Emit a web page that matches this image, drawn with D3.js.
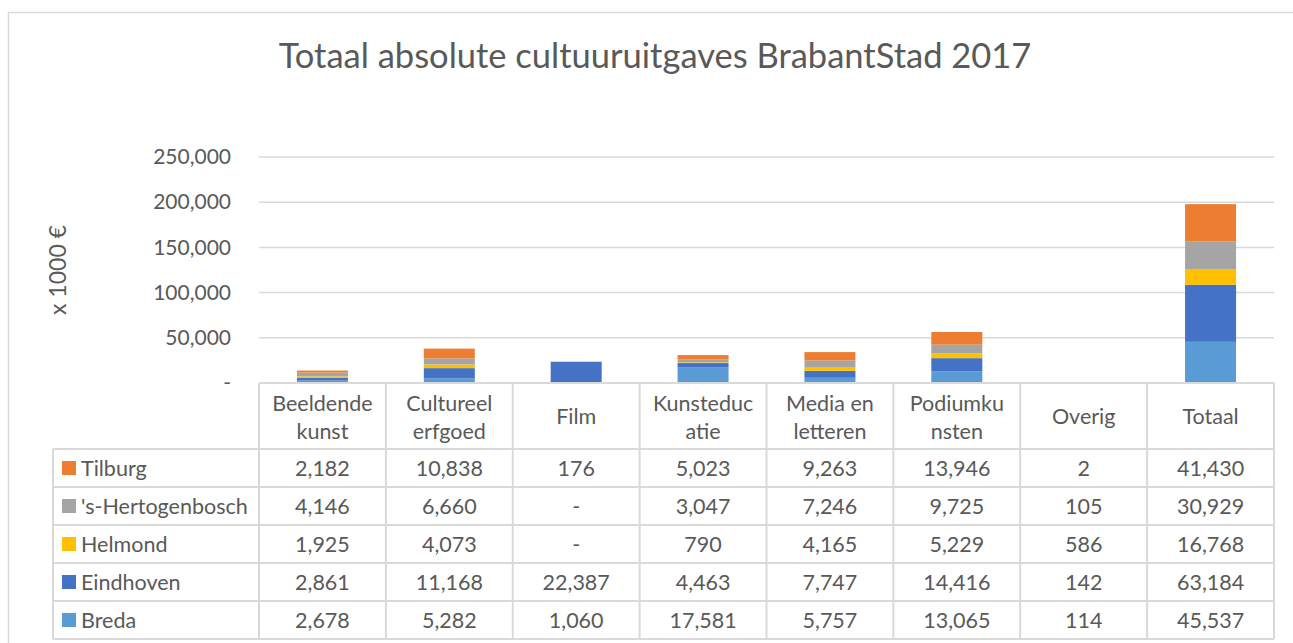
<!DOCTYPE html>
<html>
<head>
	<meta charset="utf-8">
	<title>Totaal absolute cultuuruitgaves BrabantStad 2017</title>
	<script src="https://d3js.org/d3.v7.min.js"></script>
	<style type="text/css">
		body { margin:0; background:#fff; }
		svg { display:block; font-family: Lato, "Open Sans", sans-serif; }
	</style>
</head>
<body>
	<script type="text/javascript">

		// data
		var categories = ["Beeldende kunst", "Cultureel erfgoed", "Film", "Kunsteducatie",
			"Media en letteren", "Podiumkunsten", "Overig", "Totaal"];
		// header labels as wrapped in the table
		var headerLines = [["Beeldende","kunst"], ["Cultureel","erfgoed"], ["Film"], ["Kunsteduc","atie"],
			["Media en","letteren"], ["Podiumku","nsten"], ["Overig"], ["Totaal"]];
		var cities = ["Breda", "Eindhoven", "Helmond", "'s-Hertogenbosch", "Tilburg"];
		var breda       = [2678, 5282, 1060, 17581, 5757, 13065, 114, 45537];
		var eindhoven   = [2861, 11168, 22387, 4463, 7747, 14416, 142, 63184];
		var helmond     = [1925, 4073, 0, 790, 4165, 5229, 586, 16768];
		var hertogenbosch = [4146, 6660, 0, 3047, 7246, 9725, 105, 30929];
		var tilburg     = [2182, 10838, 176, 5023, 9263, 13946, 2, 41430];
		var yTicks = [0, 50000, 100000, 150000, 200000, 250000];
		var colors = ["#5B9BD5", "#4472C4", "#FFC000", "#A5A5A5", "#ED7D31"];

		var seriesValues = [breda, eindhoven, helmond, hertogenbosch, tilburg];

		var W = 1293, H = 643;
		var plot = {left: 259, right: 1274, top: 157, bottom: 383};
		var headerH = 66, rowH = 38, legendLeft = 53;
		var textColor = "#595959", lineColor = "#d9d9d9";
		var cellFont = 21.5;

		var svg = d3.select("body").append("svg")
			.attr("width", W)
			.attr("height", H);

		// chart frame (continues past the right/bottom edge)
		svg.append("rect")
			.attr("x", 8.5).attr("y", 12.5)
			.attr("width", W + 20).attr("height", H + 20)
			.attr("fill", "none")
			.attr("stroke", lineColor)
			.attr("stroke-width", 1.5);

		// title
		svg.append("text")
			.attr("x", 655).attr("y", 68)
			.attr("text-anchor", "middle")
			.attr("fill", textColor)
			.attr("font-size", 34.5)
			.text("Totaal absolute cultuuruitgaves BrabantStad 2017");

		var x = d3.scaleBand()
			.domain(categories)
			.range([plot.left, plot.right])
			.paddingInner(0)
			.paddingOuter(0);

		var y = d3.scaleLinear()
			.domain([0, 250000])
			.range([plot.bottom, plot.top]);

		// gridlines
		svg.append("g")
			.selectAll("line")
			.data(yTicks.slice(1))
			.enter()
			.append("line")
				.attr("x1", plot.left).attr("x2", plot.right)
				.attr("y1", function(d){ return y(d); })
				.attr("y2", function(d){ return y(d); })
				.attr("stroke", lineColor)
				.attr("stroke-width", 1.5);

		// y axis labels
		var fmt = d3.format(",");
		var yAxis = d3.axisLeft(y)
			.tickValues(yTicks)
			.tickSize(0)
			.tickPadding(0)
			.tickFormat(function(d){ return d === 0 ? "-" : fmt(d); });
		var gy = svg.append("g")
			.attr("transform", "translate(" + (plot.left - 28) + ",0)")
			.call(yAxis);
		gy.select(".domain").remove();
		gy.selectAll("text")
			.attr("fill", textColor)
			.attr("font-size", 21)
			.attr("font-family", "Lato, sans-serif");

		// y axis title
		svg.append("text")
			.attr("transform", "translate(66,270) rotate(-90)")
			.attr("text-anchor", "middle")
			.attr("fill", textColor)
			.attr("font-size", 23)
			.text("x 1000 €");

		// stacked bars
		var rows = categories.map(function(c, i){
			var r = {category: c};
			cities.forEach(function(city, k){ r[city] = seriesValues[k][i]; });
			return r;
		});
		var stack = d3.stack().keys(cities)(rows);
		var barW = 51;

		svg.append("g")
			.selectAll("g")
			.data(stack)
			.enter()
			.append("g")
				.attr("fill", function(d, i){ return colors[i]; })
			.selectAll("rect")
			.data(function(d){ return d; })
			.enter()
			.append("rect")
				.attr("x", function(d){ return x(d.data.category) + (x.bandwidth() - barW) / 2; })
				.attr("y", function(d){ return y(d[1]); })
				.attr("width", barW)
				.attr("height", function(d){ return y(d[0]) - y(d[1]); });

		// data table
		var table = svg.append("g");
		var tableTop = plot.bottom;
		var nRows = cities.length;
		var tableBottom = tableTop + headerH + nRows * rowH;

		// header row border
		table.append("line")
			.attr("x1", plot.left).attr("x2", plot.right)
			.attr("y1", tableTop).attr("y2", tableTop);
		// horizontal lines for data rows
		d3.range(nRows + 1).forEach(function(i){
			var yy = tableTop + headerH + i * rowH;
			table.append("line")
				.attr("x1", legendLeft).attr("x2", plot.right)
				.attr("y1", yy).attr("y2", yy);
		});
		// vertical lines
		categories.forEach(function(c){
			table.append("line")
				.attr("x1", x(c)).attr("x2", x(c))
				.attr("y1", tableTop).attr("y2", tableBottom);
		});
		table.append("line")
			.attr("x1", plot.right).attr("x2", plot.right)
			.attr("y1", tableTop).attr("y2", tableBottom);
		table.append("line")
			.attr("x1", legendLeft).attr("x2", legendLeft)
			.attr("y1", tableTop + headerH).attr("y2", tableBottom);
		table.selectAll("line")
			.attr("stroke", lineColor)
			.attr("stroke-width", 2);

		// header text
		headerLines.forEach(function(lines, i){
			var cx = x(categories[i]) + x.bandwidth() / 2;
			var t = table.append("text")
				.attr("x", cx)
				.attr("text-anchor", "middle")
				.attr("fill", textColor)
				.attr("font-size", cellFont);
			if(lines.length === 1){
				t.attr("y", tableTop + headerH / 2 + 8).text(lines[0]);
			}else{
				t.append("tspan").attr("x", cx).attr("y", tableTop + 28).text(lines[0]);
				t.append("tspan").attr("x", cx).attr("y", tableTop + 56).text(lines[1]);
			}
		});

		// data rows: top row is Tilburg, bottom Breda
		var order = d3.range(nRows).reverse();
		order.forEach(function(k, r){
			var yc = tableTop + headerH + r * rowH + rowH / 2;
			table.append("rect")
				.attr("x", 62).attr("y", yc - 7)
				.attr("width", 14).attr("height", 14)
				.attr("fill", colors[k]);
			table.append("text")
				.attr("x", 81).attr("y", yc + 8)
				.attr("fill", textColor)
				.attr("font-size", cellFont)
				.text(cities[k]);
			seriesValues[k].forEach(function(v, i){
				table.append("text")
					.attr("x", x(categories[i]) + x.bandwidth() / 2)
					.attr("y", yc + 8)
					.attr("text-anchor", "middle")
					.attr("fill", textColor)
					.attr("font-size", cellFont)
					.text(v === 0 ? "-" : fmt(v));
			});
		});

	</script>
</body>
</html>
